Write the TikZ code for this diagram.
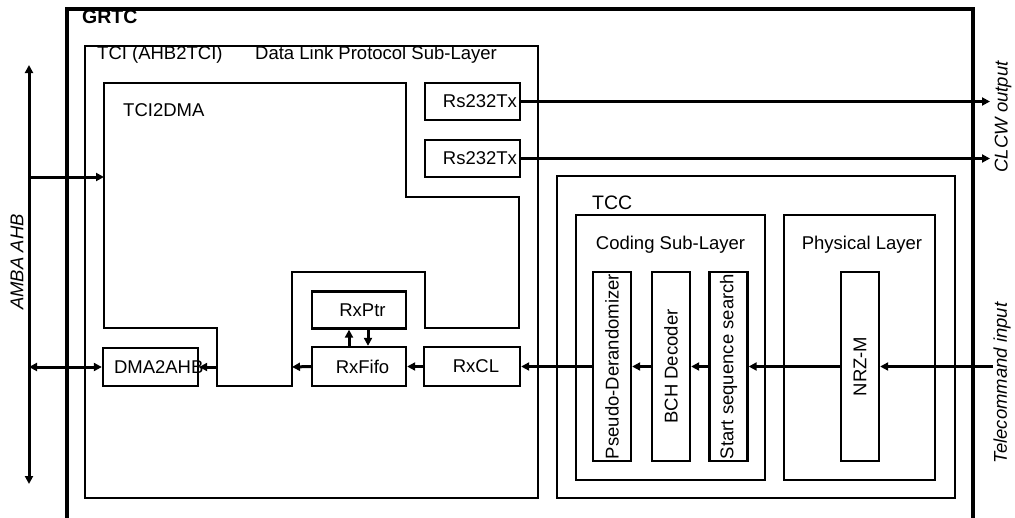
\documentclass[tikz,border=0pt]{standalone}
\usepackage{fontspec}
\setmainfont{Liberation Sans}
\usetikzlibrary{arrows.meta}
\begin{document}
\begin{tikzpicture}[x=1pt,y=-1pt,
  fnt/.style={font=\fontsize{18.5pt}{21pt}\selectfont},
  txt/.style={fnt, inner sep=0pt},
  box/.style={draw, line width=2.3pt, inner sep=0pt, fnt},
  vbox/.style={box, rotate=90, minimum width=189pt, minimum height=38pt},
  outer/.style={line width=3.2pt},
  arr/.style={line width=3pt, -{Triangle[length=8pt,width=8pt]}},
  darr/.style={line width=3pt, {Triangle[length=8pt,width=8pt]}-{Triangle[length=8pt,width=8pt]}},
  lbl/.style={inner sep=0pt, font=\fontsize{18.5pt}{21pt}\selectfont\itshape, rotate=90},
]
\path[use as bounding box] (0,0) rectangle (1015,517);

% GRTC frame (open at the bottom)
\draw[outer] (67,530) -- (67,9) -- (973,9) -- (973,530);
\node[inner sep=0pt, anchor=west, font=\fontsize{19.5pt}{21pt}\selectfont\bfseries] (grtc) at (82,17) {GRTC};

% TCI
\node[box, minimum width=453pt, minimum height=452pt] (tci) at (311.5,272) {};
\node[txt, anchor=west] (tcilbl) at (97,55) {TCI (AHB2TCI)};
\node[txt, anchor=west] (dllbl) at (255,55) {Data Link Protocol Sub-Layer};

% TCI2DMA outline
\draw[line width=2.3pt] (104,83) -- (406,83) -- (406,197) -- (519,197) -- (519,328)
  -- (425,328) -- (425,272) -- (292,272) -- (292,386) -- (217,386) -- (217,328)
  -- (104,328) -- cycle;
\node[txt, anchor=west] (t2d) at (123,110) {TCI2DMA};
\coordinate (t2dleft) at (104,177);
\coordinate (t2dbl) at (217,367);
\coordinate (t2dbr) at (292,367);

% Rs232Tx
\node[box, minimum width=95pt, minimum height=37pt, text width=89pt, inner xsep=3pt, align=right] (rs1) at (472.5,101.5) {Rs232Tx};
\node[box, minimum width=95pt, minimum height=37pt, text width=89pt, inner xsep=3pt, align=right] (rs2) at (472.5,158.5) {Rs232Tx};

% Inner boxes
\node[box, minimum width=94pt, minimum height=37pt] (rxptr) at (359,310) {\hspace*{7pt}RxPtr};
\node[box, minimum width=94pt, minimum height=39pt] (rxfifo) at (359,366.5) {\hspace*{7pt}RxFifo};
\node[box, minimum width=96pt, minimum height=39pt] (rxcl) at (472,366.5) {\hspace*{8pt}RxCL};
\node[box, minimum width=95pt, minimum height=38pt, text width=73pt, inner xsep=11pt, align=left] (dma) at (150.5,367) {DMA2AHB};

% TCC
\node[box, minimum width=398pt, minimum height=322pt] (tcc) at (756,337) {};
\node[txt, anchor=west, font=\fontsize{19.5pt}{21pt}\selectfont] (tcclbl) at (592,203) {TCC};
\node[box, minimum width=189pt, minimum height=265pt] (coding) at (670.5,347.5) {};
\node[txt] (codinglbl) at (670.5,245) {Coding Sub-Layer};
\node[box, minimum width=151pt, minimum height=265pt] (phys) at (859.5,347.5) {};
\node[txt] (physlbl) at (862,245) {Physical Layer};

\node[vbox] (pseudo) at (612,366.5) {Pseudo-Derandomizer};
\node[vbox] (bch) at (671,366.5) {BCH Decoder};
\node[vbox] (start) at (728.5,366.5) {Start sequence search};
\node[vbox] (nrz) at (860,366.5) {NRZ-M};

% AMBA bus
\coordinate (btop) at (29,65);
\coordinate (bbot) at (29,484);
\coordinate (b1) at (29,177);
\coordinate (b2) at (29,367);
\draw[darr] (bbot) -- (btop);
\node[lbl] (amba) at (17,262) {AMBA AHB};
\draw[arr] (b1) -- (t2dleft);
\draw[darr] (b2) -- (dma.west);
\draw[arr] (t2dbl) -- (dma.east);

% data path
\coordinate (tin) at (993,366.5);
\draw[arr] (tin) -- (nrz.south);
\draw[arr] (nrz.north) -- (start.south);
\draw[arr] (start.north) -- (bch.south);
\draw[arr] (bch.north) -- (pseudo.south);
\draw[arr] (pseudo.north) -- (rxcl.east);
\draw[arr] (rxcl.west) -- (rxfifo.east);
\draw[arr] (rxfifo.west) -- (t2dbr);
\draw[arr] ([xshift=-10pt]rxfifo.north) -- ([xshift=-10pt]rxptr.south);
\draw[arr] ([xshift=9pt]rxptr.south) -- ([xshift=9pt]rxfifo.north);
\node[lbl] (tcin) at (1002,383) {Telecommand input};

% CLCW outputs
\coordinate (o1) at (990,101.5);
\coordinate (o2) at (990,158.5);
\draw[arr] (rs1.east) -- (o1);
\draw[arr] (rs2.east) -- (o2);
\node[lbl] (clcw) at (1003,117) {CLCW output};
\end{tikzpicture}
\end{document}
